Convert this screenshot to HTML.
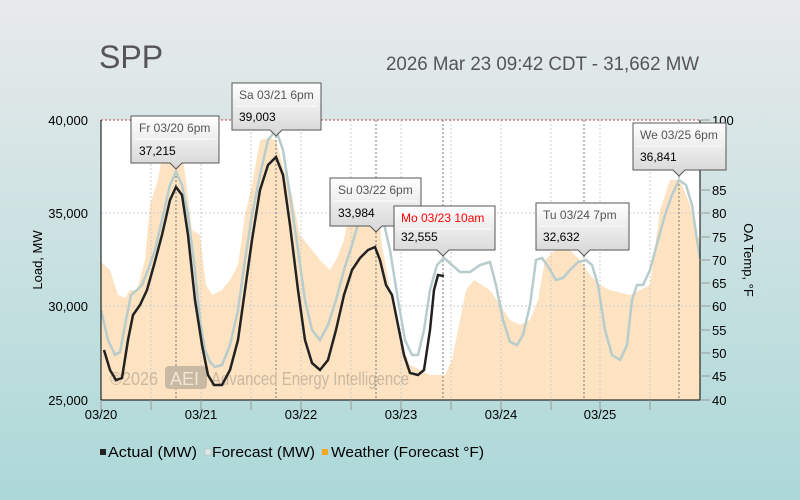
<!DOCTYPE html>
<html><head><meta charset="utf-8"><style>
html,body{margin:0;padding:0;width:800px;height:500px;overflow:hidden}
svg{display:block}
</style></head><body>
<svg width="800" height="500" xmlns="http://www.w3.org/2000/svg" font-family="Liberation Sans, DejaVu Sans, sans-serif">
<defs>
<linearGradient id="bg" x1="0" y1="0" x2="0" y2="1"><stop offset="0" stop-color="#e8eaeb"/><stop offset="1" stop-color="#acd8d8"/></linearGradient>
<linearGradient id="tt" x1="0" y1="0" x2="0" y2="1"><stop offset="0" stop-color="#ffffff"/><stop offset="1" stop-color="#d6d6d6"/></linearGradient>
</defs>
<rect width="800" height="500" fill="url(#bg)"/>
<text x="99" y="68" font-size="32" fill="#555">SPP</text>
<text x="386" y="70" font-size="19" fill="#555" textLength="313" lengthAdjust="spacingAndGlyphs">2026 Mar 23 09:42 CDT - 31,662 MW</text>
<rect x="101" y="120" width="599" height="280" fill="#fff"/>
<path fill="#fde3c2" d="M101,400 L101,262 L110,270 L118,295 L125,298 L130,290 L137,290 L145,260 L150,205 L158,180 L163,150 L168,135 L180,140 L186,180 L192,230 L200,235 L206,285 L212,295 L222,290 L230,280 L238,265 L245,215 L252,185 L260,140 L268,138 L276,140 L284,170 L292,195 L300,235 L308,245 L320,260 L330,270 L336,260 L344,240 L350,205 L360,185 L368,180 L376,190 L382,245 L392,300 L400,340 L410,365 L420,370 L430,375 L445,375 L452,360 L460,320 L466,290 L474,280 L490,290 L500,305 L510,320 L520,325 L530,320 L538,300 L545,260 L555,250 L570,250 L580,260 L590,275 L600,285 L610,290 L630,295 L640,290 L650,285 L660,210 L670,180 L680,180 L690,205 L695,230 L700,240 L700,400Z"/>
<g stroke="#ccc" stroke-dasharray="2,2" stroke-width="1">
<line x1="151" y1="120" x2="151" y2="400"/><line x1="201" y1="120" x2="201" y2="400"/><line x1="251" y1="120" x2="251" y2="400"/><line x1="301" y1="120" x2="301" y2="400"/><line x1="351" y1="120" x2="351" y2="400"/><line x1="401" y1="120" x2="401" y2="400"/><line x1="451" y1="120" x2="451" y2="400"/><line x1="501" y1="120" x2="501" y2="400"/><line x1="551" y1="120" x2="551" y2="400"/><line x1="600" y1="120" x2="600" y2="400"/><line x1="650" y1="120" x2="650" y2="400"/>
<line x1="101" y1="213" x2="700" y2="213"/><line x1="101" y1="306" x2="700" y2="306"/>
</g>
<g stroke="#777" stroke-dasharray="2,2" stroke-width="1">
<line x1="176" y1="120" x2="176" y2="400"/><line x1="276" y1="120" x2="276" y2="400"/><line x1="376" y1="120" x2="376" y2="400"/><line x1="443" y1="120" x2="443" y2="400"/><line x1="584" y1="120" x2="584" y2="400"/><line x1="679" y1="120" x2="679" y2="400"/>
</g>
<line x1="101" y1="120" x2="700" y2="120" stroke="#b44" stroke-dasharray="2,2"/>
<text x="110" y="385" font-size="18" fill="#c9b8a2" textLength="48" lengthAdjust="spacingAndGlyphs">©2026</text>
<rect x="165" y="366" width="42" height="23" rx="4" fill="#c9b8a2"/>
<text x="170" y="385" font-size="18" fill="#f0e6d8">AEI</text>
<text x="211" y="385" font-size="18" fill="#c9b8a2" textLength="198" lengthAdjust="spacingAndGlyphs">Advanced Energy Intelligence</text>
<polyline fill="none" stroke="#b7cccc" stroke-width="2.5" points="101,310 108,340 115,355 120,352 126,320 131,295 137,290 142,285 148,270 155,250 162,220 170,185 176,172 182,185 188,215 195,270 200,320 205,350 210,362 215,367 222,365 230,345 238,310 245,260 252,215 260,175 268,140 276,130 283,150 290,195 298,250 305,300 312,330 320,340 328,325 336,300 344,270 352,245 360,217 368,215 376,205 382,215 390,250 398,300 405,340 412,355 418,355 424,330 430,290 437,265 444,258 452,265 460,272 470,272 480,265 490,262 496,285 503,320 510,342 517,345 523,335 530,305 536,260 542,258 549,268 556,280 563,278 570,270 578,262 586,260 592,265 598,285 605,330 612,355 620,360 627,345 632,300 637,285 643,285 650,270 658,240 665,215 672,195 679,180 686,185 692,205 697,240 700,258"/>
<polyline fill="none" stroke="#222" stroke-width="2.5" points="104,350 110,370 116,380 122,378 128,340 133,315 140,305 147,290 154,265 162,235 170,200 176,187 182,195 188,235 195,300 202,345 208,375 214,385 222,385 230,370 238,340 245,290 252,240 260,190 268,165 276,157 283,175 290,225 298,290 305,340 312,363 320,370 328,360 336,330 344,295 352,270 360,258 368,250 375,247 380,260 386,285 392,295 398,325 404,355 410,373 418,375 424,370 430,330 434,290 438,275 444,276"/>
<line x1="101" y1="120" x2="101" y2="400" stroke="#000"/>
<line x1="700" y1="120" x2="700" y2="400" stroke="#000"/>
<line x1="101" y1="400" x2="700" y2="400" stroke="#000"/>
<g stroke="#999"><line x1="101" y1="400" x2="101" y2="410"/><line x1="151" y1="400" x2="151" y2="410"/><line x1="201" y1="400" x2="201" y2="410"/><line x1="251" y1="400" x2="251" y2="410"/><line x1="301" y1="400" x2="301" y2="410"/><line x1="351" y1="400" x2="351" y2="410"/><line x1="401" y1="400" x2="401" y2="410"/><line x1="451" y1="400" x2="451" y2="410"/><line x1="501" y1="400" x2="501" y2="410"/><line x1="551" y1="400" x2="551" y2="410"/><line x1="600" y1="400" x2="600" y2="410"/><line x1="650" y1="400" x2="650" y2="410"/>
<line x1="700" y1="120" x2="710" y2="120"/><line x1="700" y1="143" x2="710" y2="143"/><line x1="700" y1="167" x2="710" y2="167"/><line x1="700" y1="190" x2="710" y2="190"/><line x1="700" y1="213" x2="710" y2="213"/><line x1="700" y1="237" x2="710" y2="237"/><line x1="700" y1="260" x2="710" y2="260"/><line x1="700" y1="283" x2="710" y2="283"/><line x1="700" y1="306" x2="710" y2="306"/><line x1="700" y1="330" x2="710" y2="330"/><line x1="700" y1="353" x2="710" y2="353"/><line x1="700" y1="376" x2="710" y2="376"/><line x1="700" y1="400" x2="710" y2="400"/></g>
<g font-size="13" fill="#000" text-anchor="middle">
<text x="101" y="419">03/20</text><text x="201" y="419">03/21</text><text x="301" y="419">03/22</text><text x="401" y="419">03/23</text><text x="501" y="419">03/24</text><text x="600" y="419">03/25</text></g>
<g font-size="13" fill="#000" text-anchor="end">
<text x="88" y="125">40,000</text><text x="88" y="218">35,000</text><text x="88" y="311">30,000</text><text x="88" y="405">25,000</text></g>
<g font-size="13" fill="#000">
<text x="712" y="125">100</text><text x="712" y="195">85</text><text x="712" y="218">80</text><text x="712" y="242">75</text><text x="712" y="265">70</text><text x="712" y="288">65</text><text x="712" y="311">60</text><text x="712" y="335">55</text><text x="712" y="358">50</text><text x="712" y="381">45</text><text x="712" y="405">40</text></g>
<text transform="translate(42,260) rotate(-90)" font-size="13" text-anchor="middle">Load, MW</text>
<text transform="translate(744,260) rotate(90)" font-size="13" text-anchor="middle">OA Temp, °F</text>
<g font-size="12">
<g><path d="M131,116 H219 V163 H182 L176,169 L170,163 H131Z" fill="url(#tt)" stroke="#555"/><line x1="135" y1="139" x2="215" y2="139" stroke="#fff"/><text x="139" y="132" fill="#555">Fr 03/20 6pm</text><text x="139" y="155">37,215</text></g>
<g><path d="M232,83 H321 V130 H282 L276,136 L270,130 H232Z" fill="url(#tt)" stroke="#555"/><line x1="236" y1="106" x2="317" y2="106" stroke="#fff"/><text x="239" y="99" fill="#555">Sa 03/21 6pm</text><text x="239" y="121">39,003</text></g>
<g><path d="M330,178 H421 V226 H382 L376,232 L370,226 H330Z" fill="url(#tt)" stroke="#555"/><line x1="334" y1="201" x2="417" y2="201" stroke="#fff"/><text x="338" y="194" fill="#555">Su 03/22 6pm</text><text x="338" y="217">33,984</text></g>
<g><path d="M394,206 H495 V250 H449 L443,256 L437,250 H394Z" fill="url(#tt)" stroke="#555"/><line x1="398" y1="229" x2="491" y2="229" stroke="#fff"/><text x="401" y="222" fill="#f00">Mo 03/23 10am</text><text x="401" y="241">32,555</text></g>
<g><path d="M536,203 H629 V250 H590 L584,256 L578,250 H536Z" fill="url(#tt)" stroke="#555"/><line x1="540" y1="226" x2="625" y2="226" stroke="#fff"/><text x="543" y="219" fill="#555">Tu 03/24 7pm</text><text x="543" y="241">32,632</text></g>
<g><path d="M633,123 H726 V170 H685 L679,176 L673,170 H633Z" fill="url(#tt)" stroke="#555"/><line x1="637" y1="146" x2="722" y2="146" stroke="#fff"/><text x="640" y="139" fill="#555">We 03/25 6pm</text><text x="640" y="161">36,841</text></g>
</g>
<g font-size="15">
<rect x="100" y="449" width="6" height="6" fill="#222"/><text x="108" y="457" textLength="89" lengthAdjust="spacingAndGlyphs">Actual (MW)</text>
<rect x="205" y="449" width="6" height="6" fill="#dfe8e8" stroke="#bbb" stroke-width="0.5"/><text x="212" y="457" textLength="103" lengthAdjust="spacingAndGlyphs">Forecast (MW)</text>
<rect x="322" y="449" width="6" height="6" fill="#f5a623"/><text x="331" y="457" textLength="153" lengthAdjust="spacingAndGlyphs">Weather (Forecast °F)</text>
</g>
</svg>
</body></html>
